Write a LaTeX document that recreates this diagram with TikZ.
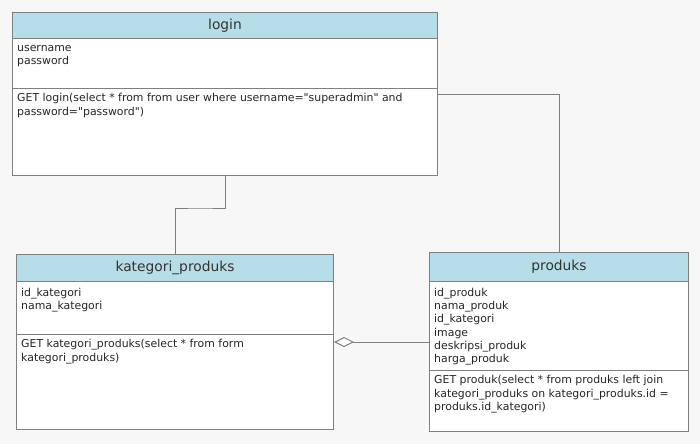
\documentclass[tikz,border=0pt]{standalone}
\usepackage{fontspec}
\setmainfont{DejaVu Sans}[Ligatures=TeXOff]
\usetikzlibrary{arrows.meta}
\definecolor{headblue}{HTML}{B7DDE8}
\definecolor{boxline}{HTML}{7F7F7F}
\definecolor{canvas}{HTML}{F7F7F7}
\begin{document}
\begin{tikzpicture}[x=1pt,y=-1pt,
  part/.style={draw=boxline,line width=1pt,fill=white,anchor=north west,inner sep=0pt},
  head/.style={part,fill=headblue,font=\fontsize{13.8}{15}\selectfont,text=black!80},
  field/.style={anchor=north west,inner sep=0pt,align=left,font=\fontsize{10.9}{13.2}\selectfont,text=black!85},
  link/.style={draw=boxline,line width=1pt}]
%background
\fill[canvas] (0,0) rectangle (700,444);
\useasboundingbox (0,0) rectangle (700,444);

%login
\node[head,minimum width=425pt,minimum height=26pt] (login-head) at (12,12) {login};
\node[part,minimum width=425pt,minimum height=50pt] (login-attr) at (12,38) {};
\node[part,minimum width=425pt,minimum height=87pt] (login-ops) at (12,88) {};
\node[field] (login-attr-text) at (17,45) {username\\password};
\node[field] (login-ops-text) at (17,93.5) {GET login(select * from from user where username="superadmin" and\\password="password")};

%kategori_produks
\node[head,minimum width=317pt,minimum height=27pt] (kat-head) at (16,254) {kategori\_produks};
\node[part,minimum width=317pt,minimum height=53pt] (kat-attr) at (16,281) {};
\node[part,minimum width=317pt,minimum height=95pt] (kat-ops) at (16,334) {};
\node[field] (kat-attr-text) at (21,288) {id\_kategori\\nama\_kategori};
\node[field] (kat-ops-text) at (21,339.5) {GET kategori\_produks(select * from form\\kategori\_produks)};

%produks
\node[head,minimum width=259pt,minimum height=29pt] (prod-head) at (429,252) {produks};
\node[part,minimum width=259pt,minimum height=89pt] (prod-attr) at (429,281) {};
\node[part,minimum width=259pt,minimum height=61pt] (prod-ops) at (429,370) {};
\node[field] (prod-attr-text) at (434,288) {id\_produk\\nama\_produk\\id\_kategori\\image\\deskripsi\_produk\\harga\_produk};
\node[field] (prod-ops-text) at (434,375.5) {GET produk(select * from produks left join\\kategori\_produks on kategori\_produks.id =\\produks.id\_kategori)};

%connectors
\coordinate (bend1) at (200,208);
\coordinate (exit2) at (437,94);
\coordinate (agg) at (380,342);
\draw[link] (login-ops.south) |- (bend1) -| (kat-head.north);
\draw[link] (exit2) -| (prod-head.north);
\draw[link,{Diamond[open,fill=white,length=20pt,width=10pt]}-] (kat-ops.east |- agg) -- (prod-attr.west |- agg);
\end{tikzpicture}
\end{document}
